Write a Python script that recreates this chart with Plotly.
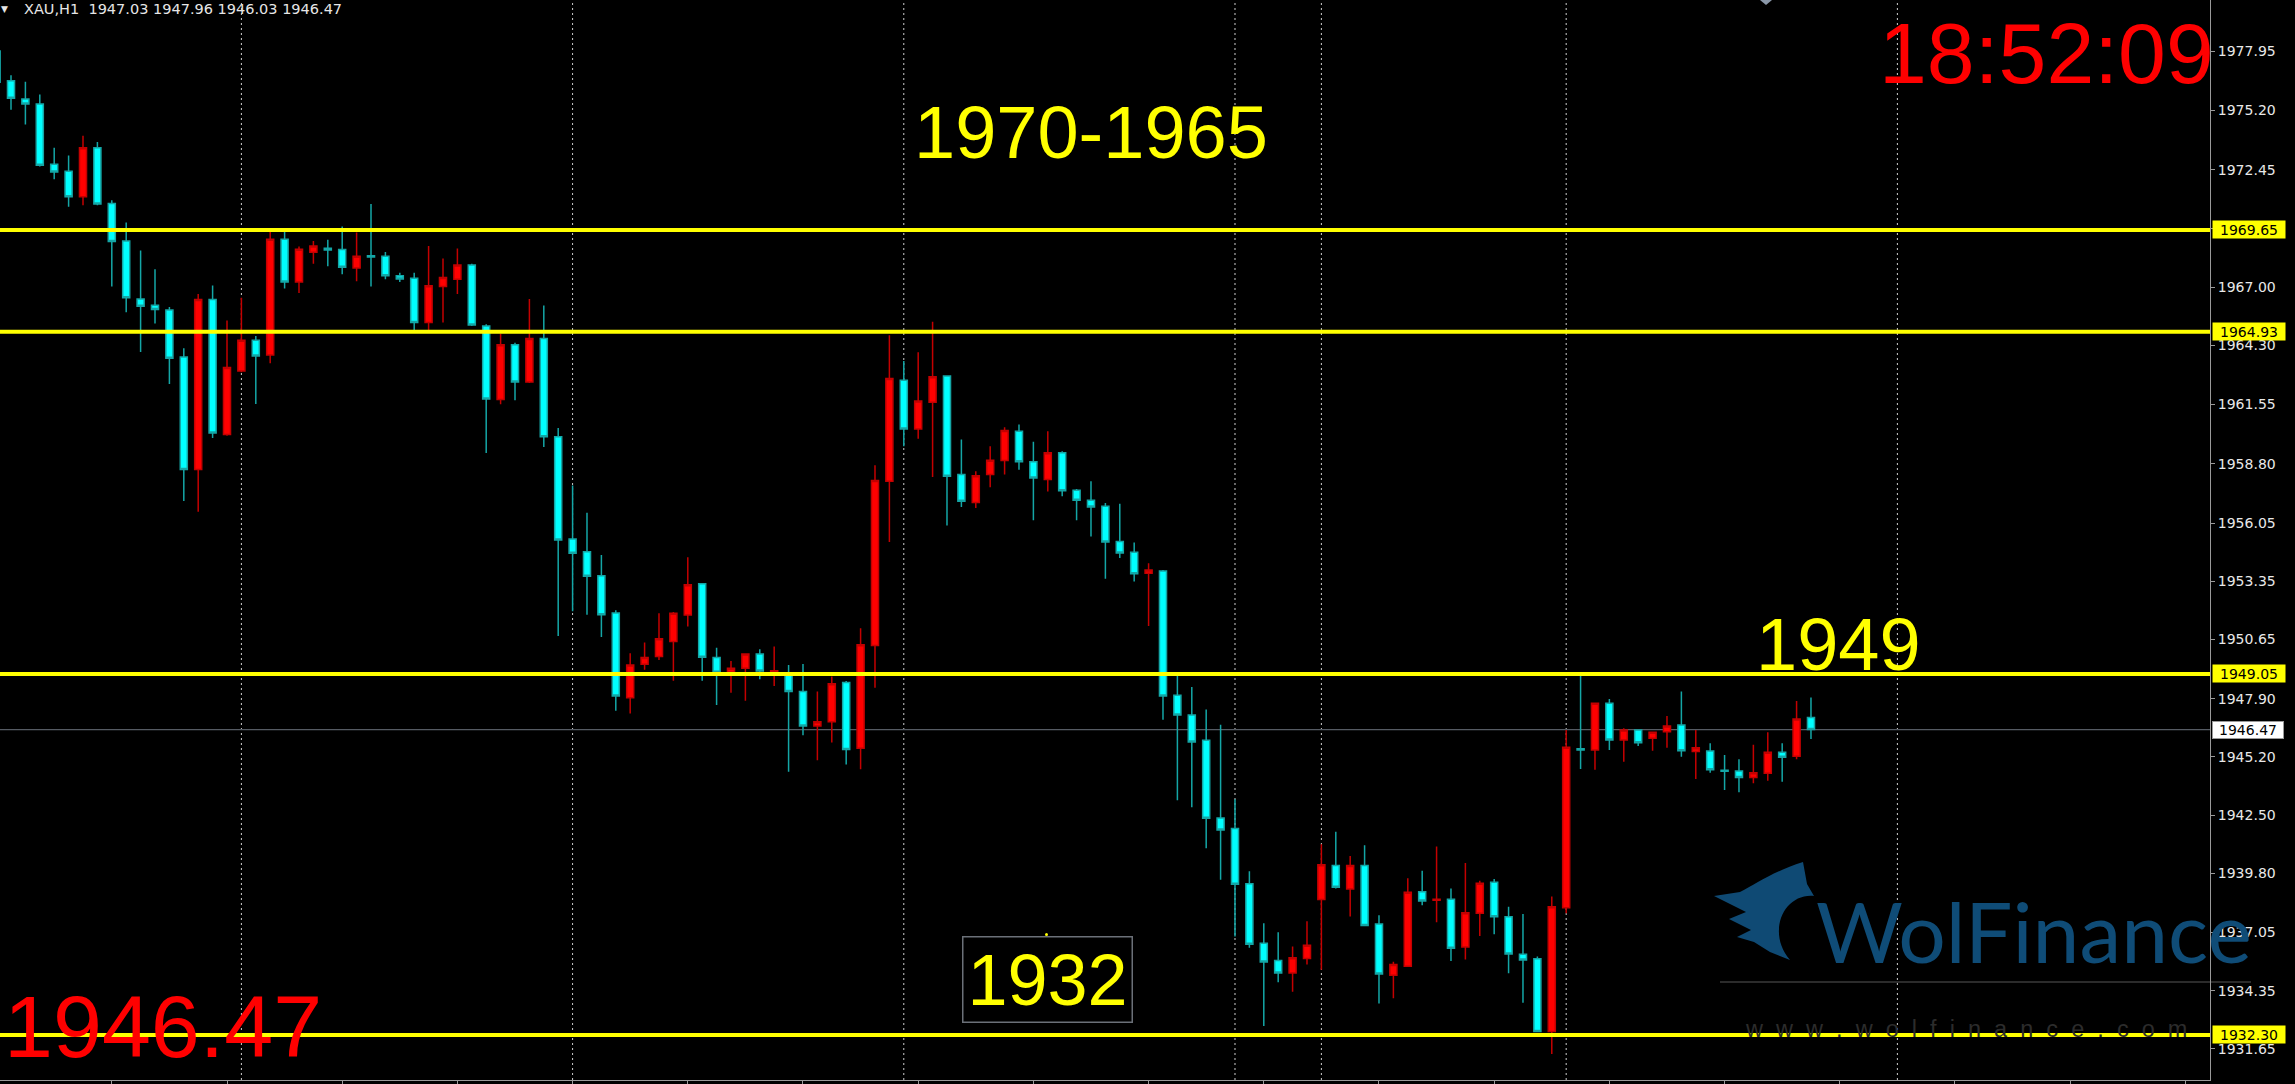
import plotly.graph_objects as go

# ---------------- data (bars k = -1 .. 125, oldest first) ----------------
opens = [1977.95,
 1976.57, 1975.73, 1975.50, 1972.70, 1972.37, 1971.19, 1973.47, 1970.88, 1969.14, 1966.45,
 1966.16, 1965.94, 1963.76, 1958.54, 1966.42, 1960.16, 1963.11, 1964.53, 1963.85, 1969.22,
 1967.23, 1968.62, 1968.80, 1968.74, 1967.88, 1968.45, 1968.43, 1967.52, 1967.41, 1965.36,
 1967.03, 1967.36, 1968.02, 1965.19, 1961.78, 1964.32, 1962.60, 1964.62, 1960.05, 1955.31,
 1954.72, 1953.61, 1951.88, 1947.95, 1949.50, 1949.86, 1950.55, 1951.79, 1953.23, 1949.81,
 1949.13, 1949.31, 1949.98, 1949.15, 1949.00, 1948.23, 1946.63, 1946.83, 1948.65, 1945.60,
 1950.37, 1957.99, 1962.68, 1960.42, 1961.66, 1962.87, 1958.30, 1957.01, 1958.30, 1958.95,
 1960.31, 1958.89, 1958.07, 1959.31, 1957.57, 1957.11, 1956.83, 1955.20, 1954.70, 1953.72,
 1953.83, 1948.06, 1947.15, 1945.97, 1942.37, 1941.88, 1939.31, 1936.56, 1935.76, 1935.18,
 1935.85, 1938.58, 1940.16, 1939.07, 1940.16, 1937.45, 1935.07, 1935.49, 1938.95, 1938.55,
 1938.60, 1936.38, 1937.95, 1939.39, 1937.79, 1936.04, 1935.83, 1932.46, 1938.20, 1945.58,
 1945.52, 1947.69, 1945.99, 1946.45, 1946.07, 1946.37, 1946.68, 1945.45, 1945.48, 1944.58,
 1944.55, 1944.24, 1944.44, 1945.42, 1945.23, 1947.03]
highs = [1978.25,
 1976.83, 1976.53, 1975.93, 1973.47, 1973.11, 1974.02, 1973.73, 1971.03, 1970.00, 1968.70,
 1967.83, 1966.07, 1964.16, 1966.68, 1967.07, 1965.45, 1966.50, 1964.73, 1969.57, 1969.57,
 1968.88, 1969.14, 1969.20, 1969.81, 1969.53, 1970.85, 1968.63, 1967.67, 1967.67, 1968.91,
 1968.33, 1968.79, 1968.08, 1965.28, 1964.83, 1964.42, 1966.45, 1966.15, 1960.46, 1957.79,
 1956.53, 1954.57, 1952.00, 1950.01, 1950.51, 1951.87, 1951.92, 1954.47, 1953.25, 1950.27,
 1949.65, 1950.01, 1950.20, 1950.32, 1949.47, 1949.51, 1948.23, 1948.93, 1948.72, 1951.17,
 1958.73, 1964.77, 1963.57, 1963.98, 1965.39, 1962.90, 1959.93, 1958.45, 1959.62, 1960.50,
 1960.62, 1959.82, 1960.31, 1959.38, 1957.63, 1957.99, 1956.98, 1956.95, 1955.15, 1954.19,
 1953.87, 1948.97, 1948.45, 1947.40, 1946.69, 1943.24, 1939.89, 1937.48, 1937.06, 1936.40,
 1937.58, 1941.15, 1941.73, 1940.60, 1941.10, 1937.85, 1935.70, 1939.57, 1939.92, 1941.04,
 1939.10, 1940.28, 1939.46, 1939.54, 1938.25, 1937.91, 1935.94, 1938.72, 1946.45, 1948.97,
 1947.72, 1947.89, 1946.53, 1946.47, 1946.36, 1947.10, 1948.23, 1946.45, 1945.83, 1945.29,
 1945.09, 1945.76, 1946.34, 1945.83, 1947.80, 1947.96]
lows = [1976.35,
 1975.23, 1974.54, 1972.60, 1972.00, 1970.73, 1970.80, 1970.80, 1967.03, 1965.83, 1963.99,
 1965.31, 1962.50, 1957.07, 1956.57, 1960.00, 1960.10, 1963.05, 1961.57, 1963.47, 1966.93,
 1966.73, 1968.08, 1967.97, 1967.60, 1967.27, 1967.03, 1967.36, 1967.24, 1965.00, 1965.00,
 1965.36, 1966.68, 1965.19, 1959.30, 1961.56, 1961.75, 1962.55, 1959.58, 1950.81, 1951.96,
 1951.80, 1950.77, 1947.34, 1947.22, 1949.24, 1949.70, 1948.74, 1951.25, 1948.74, 1947.61,
 1948.18, 1947.81, 1948.80, 1948.49, 1944.51, 1946.21, 1945.05, 1945.87, 1944.85, 1944.63,
 1948.41, 1955.17, 1959.62, 1959.96, 1958.19, 1955.94, 1956.80, 1956.75, 1957.71, 1958.30,
 1958.53, 1956.18, 1957.52, 1957.29, 1956.18, 1955.43, 1953.47, 1954.43, 1953.34, 1951.28,
 1946.93, 1943.19, 1942.87, 1940.96, 1939.50, 1936.87, 1936.35, 1932.71, 1934.75, 1934.31,
 1935.57, 1935.33, 1939.10, 1937.80, 1937.35, 1933.76, 1934.00, 1935.45, 1938.32, 1937.53,
 1935.73, 1935.80, 1936.89, 1936.97, 1935.16, 1933.80, 1932.42, 1931.42, 1937.95, 1944.64,
 1944.60, 1945.52, 1944.98, 1945.71, 1945.49, 1945.63, 1945.21, 1944.18, 1944.47, 1943.67,
 1943.56, 1943.98, 1944.09, 1944.05, 1945.09, 1946.03]
closes = [1976.50,
 1975.76, 1975.50, 1972.65, 1972.34, 1971.19, 1973.47, 1970.85, 1969.11, 1966.50, 1966.11,
 1965.96, 1963.70, 1958.54, 1966.42, 1960.23, 1963.27, 1964.53, 1963.80, 1969.22, 1967.23,
 1968.76, 1968.91, 1968.72, 1967.92, 1968.43, 1968.40, 1967.52, 1967.37, 1965.36, 1967.06,
 1967.44, 1968.02, 1965.24, 1961.81, 1964.32, 1962.60, 1964.62, 1960.05, 1955.26, 1954.65,
 1953.58, 1951.80, 1948.03, 1949.47, 1949.81, 1950.68, 1951.87, 1953.19, 1949.82, 1949.13,
 1949.31, 1949.98, 1949.19, 1949.20, 1948.23, 1946.63, 1946.83, 1948.59, 1945.55, 1950.40,
 1958.02, 1962.76, 1960.42, 1961.71, 1962.84, 1958.22, 1957.06, 1958.25, 1958.96, 1960.34,
 1958.89, 1958.14, 1959.31, 1957.55, 1957.11, 1956.80, 1955.17, 1954.66, 1953.70, 1953.87,
 1948.03, 1947.15, 1945.89, 1942.36, 1941.81, 1939.29, 1936.51, 1935.69, 1935.18, 1935.88,
 1936.46, 1940.20, 1939.15, 1940.16, 1937.38, 1935.13, 1935.57, 1938.92, 1938.51, 1938.60,
 1936.32, 1937.97, 1939.34, 1937.79, 1936.06, 1935.78, 1932.46, 1938.25, 1945.65, 1945.52,
 1947.69, 1945.99, 1946.45, 1945.86, 1946.34, 1946.64, 1945.49, 1945.63, 1944.60, 1944.53,
 1944.24, 1944.47, 1945.42, 1945.18, 1946.96, 1946.47]
bars = list(range(len(opens)))

levels = [1969.65, 1964.93, 1949.05, 1932.30]        # yellow horizontal levels
current_price = 1946.47
price_ticks = [1977.95, 1975.20, 1972.45, 1969.70, 1967.00, 1964.30, 1961.55, 1958.80,
               1956.05, 1953.35, 1950.65, 1947.90, 1945.20, 1942.50, 1939.80, 1937.05,
               1934.35, 1931.65]
separator_bars = [17, 40, 63, 86, 92, 109, 132]       # dotted vertical grid lines
time_ticks = list(range(8, 154, 8))
header = "XAU,H1\u00a0\u00a01947.03 1947.96 1946.03 1946.47"
clock_text = "18:52:09"
level_texts = ["1970-1965", "1949", "1932"]

# ---------------- geometry helpers (pixel -> paper) ----------------
W, H = 2295, 1084
PR, PB = 2210, 1080


def px(X):
    return X / PR


def py(Y):
    return 1 - Y / PB


def pt(x, y):
    return f"{px(x):.5f},{py(y):.5f}"


fig = go.Figure(go.Candlestick(
    x=bars, open=opens, high=highs, low=lows, close=closes,
    increasing=dict(line=dict(color="#c40000", width=1.5), fillcolor="#ff0000"),
    decreasing=dict(line=dict(color="#14a6a6", width=1.5), fillcolor="#00ffff"),
    whiskerwidth=0, hoverinfo="skip"))

shapes = []
for b in separator_bars:
    shapes.append(dict(type="line", xref="x", yref="paper", x0=b, x1=b, y0=0, y1=1,
                       line=dict(color="#cfcfcf", width=1, dash="2px,3px"), layer="below"))
shapes.append(dict(type="line", xref="paper", yref="y", x0=0, x1=1, y0=current_price,
                   y1=current_price, line=dict(color="#555b63", width=1.2), layer="below"))
for lv in levels:
    shapes.append(dict(type="line", xref="paper", yref="y", x0=0, x1=1, y0=lv, y1=lv,
                       line=dict(color="#ffff00", width=4), layer="above"))

# watermark: wolf head logo (crescent with ear and fur)
wolf_path = ("M " + pt(1803, 862) + " L " + pt(1807, 884) + " L " + pt(1814, 896) +
             " C " + pt(1784, 893) + " " + pt(1766, 932) + " " + pt(1790, 960) +
             " L " + pt(1770, 952) + " L " + pt(1754, 942) + " L " + pt(1737, 937) +
             " L " + pt(1751, 930) + " L " + pt(1729, 919) + " L " + pt(1746, 912) +
             " L " + pt(1714, 896) + " L " + pt(1740, 892) +
             " C " + pt(1756, 884) + " " + pt(1772, 872) + " " + pt(1803, 862) + " Z")
shapes.append(dict(type="path", xref="paper", yref="paper", path=wolf_path,
                   fillcolor="#0f4a74", line=dict(width=0), layer="below"))
shapes.append(dict(type="line", xref="paper", yref="paper", x0=px(1720), x1=px(2251),
                   y0=py(982), y1=py(982), line=dict(color="#3a3a3a", width=1.5), layer="below"))
# small markers
shapes.append(dict(type="path", xref="paper", yref="paper",
                   path=f"M {pt(1760, 0)} L {pt(1772, 0)} L {pt(1766, 5)} Z",
                   fillcolor="#8a97a8", line=dict(width=0)))
shapes.append(dict(type="circle", xref="paper", yref="paper", x0=px(1045), x1=px(1048),
                   y0=py(936), y1=py(933), fillcolor="#ffff00", line=dict(width=0)))

ann = []
BIG = "Liberation Sans, Arial, sans-serif"
AX = "DejaVu Sans, Verdana, sans-serif"
ann.append(dict(xref="paper", yref="paper", x=px(4), y=py(9), xanchor="center", yanchor="middle",
                text="\u25bc", showarrow=False, font=dict(family=AX, size=9, color="#e6e6e6")))
ann.append(dict(xref="paper", yref="paper", x=px(22), y=py(9), xanchor="left", yanchor="middle",
                text=header, showarrow=False, font=dict(family=AX, size=14.5, color="#e6e6e6")))
ann.append(dict(xref="paper", yref="paper", x=px(2046), y=py(53), xanchor="center", yanchor="middle",
                text=clock_text, showarrow=False, font=dict(family=BIG, size=86, color="#ff0000")))
ann.append(dict(xref="paper", yref="paper", x=px(163), y=py(1026), xanchor="center", yanchor="middle",
                text=f"{current_price:.2f}", showarrow=False, font=dict(family=BIG, size=88, color="#ff0000")))
ann.append(dict(xref="paper", yref="paper", x=px(1091), y=py(133), xanchor="center", yanchor="middle",
                text=level_texts[0], showarrow=False, font=dict(family=BIG, size=74, color="#ffff00")))
ann.append(dict(xref="paper", yref="paper", x=px(1838), y=py(644), xanchor="center", yanchor="middle",
                text=level_texts[1], showarrow=False, font=dict(family=BIG, size=74, color="#ffff00")))
ann.append(dict(xref="paper", yref="paper", x=px(1047.5), y=py(979.5), xanchor="center", yanchor="middle",
                text=level_texts[2], showarrow=False, font=dict(family=BIG, size=72, color="#ffff00"),
                bordercolor="#6b7078", borderwidth=1.5, borderpad=0, width=168, height=84, bgcolor="rgba(0,0,0,0)"))
ann.append(dict(xref="paper", yref="paper", x=px(2034), y=py(930), xanchor="center", yanchor="middle",
                text="WolFinance", showarrow=False, font=dict(family="Lato, sans-serif", size=84, color="#0f4c77")))
ann.append(dict(xref="paper", yref="paper", x=px(1966), y=py(1029), xanchor="center", yanchor="middle",
                text="\u00a0\u00a0".join("www.wolfinance.com"), showarrow=False,
                font=dict(family=BIG, size=23.5, color="#2c2c2c")))
for lv in levels:
    ann.append(dict(xref="paper", yref="y", x=1, y=lv, xanchor="left", yanchor="middle", xshift=2,
                    text=f"{lv:.2f}", showarrow=False, bgcolor="#ffff00", borderpad=0,
                    width=72, height=17, font=dict(family=AX, size=14, color="#000000")))
ann.append(dict(xref="paper", yref="y", x=1, y=current_price, xanchor="left", yanchor="middle", xshift=2,
                text=f"{current_price:.2f}", showarrow=False, bgcolor="#ffffff", bordercolor="#9a9a9a",
                borderwidth=1, borderpad=0, width=70, height=16,
                font=dict(family=AX, size=14, color="#000000")))

fig.update_layout(
    width=W, height=H, margin=dict(l=0, r=W - PR, t=0, b=H - PB, pad=0),
    paper_bgcolor="#000000", plot_bgcolor="#000000", showlegend=False,
    shapes=shapes, annotations=ann,
    xaxis=dict(range=[0.236, 153.71], rangeslider=dict(visible=False), showgrid=False,
               zeroline=False, showline=True, linecolor="#9a9a9a", linewidth=1,
               ticks="outside", ticklen=4, tickcolor="#9a9a9a", tickvals=time_ticks,
               showticklabels=False, fixedrange=True),
    yaxis=dict(range=[1930.21, 1980.32], side="right", showgrid=False, zeroline=False,
               showline=True, linecolor="#9a9a9a", linewidth=1, ticks="outside", ticklen=4,
               tickcolor="#9a9a9a", tickvals=price_ticks, ticktext=[f"{v:.2f}" for v in price_ticks],
               tickfont=dict(family=AX, size=14, color="#e8e8e8"), fixedrange=True),
)

fig.write_html("out.html", config={"displayModeBar": False},
               post_script="document.body.style.margin='0';document.body.style.overflow='hidden';")
